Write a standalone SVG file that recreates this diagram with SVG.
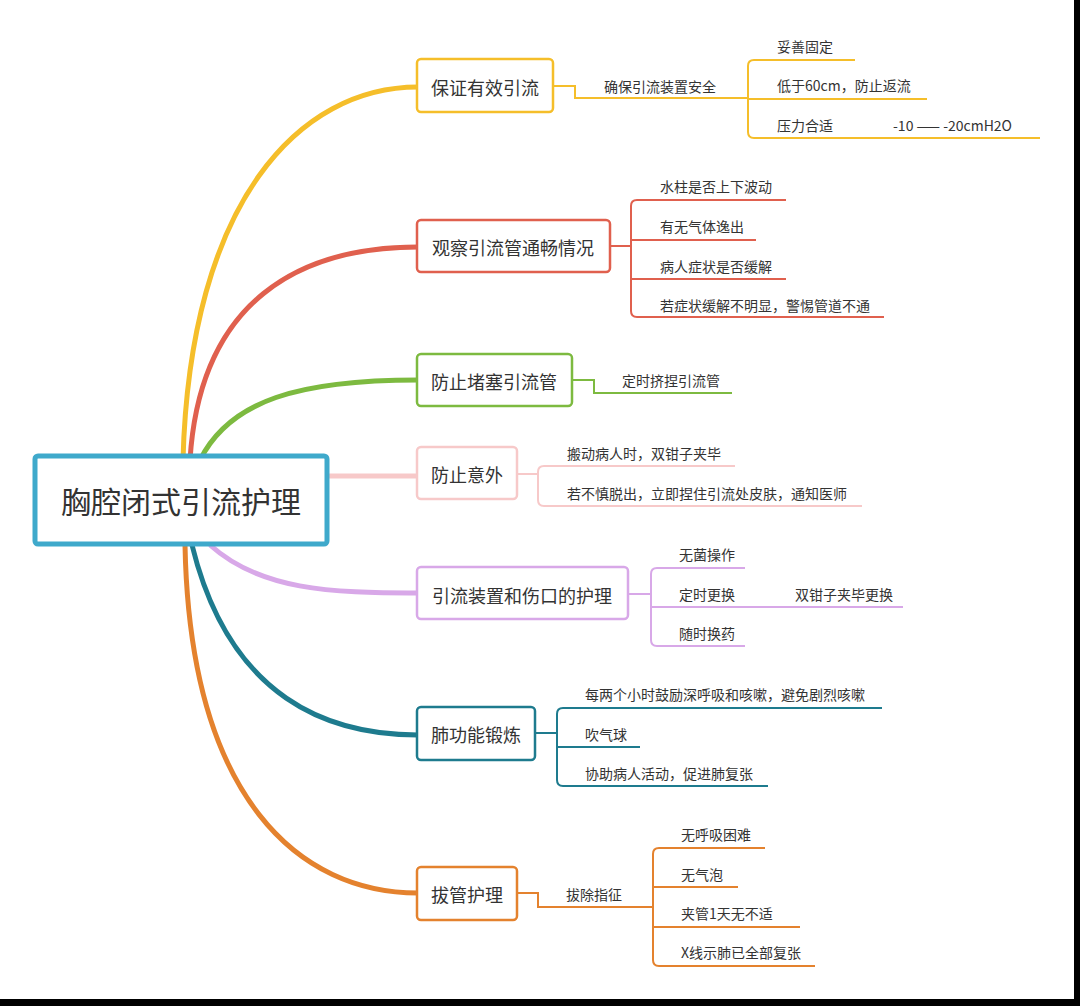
<svg xmlns="http://www.w3.org/2000/svg" width="1080" height="1006" viewBox="0 0 1080 1006">
<style>
text{font-family:"Noto Sans CJK SC","Liberation Sans",sans-serif;fill:#333}
.n{font-size:18px;text-anchor:middle;dominant-baseline:central}
.l{font-size:14px}
.box{fill:#fff;stroke-width:2.5}
.c{fill:none;stroke-width:2}
.m{fill:none;stroke-width:5}
.y{stroke:#F5BE2A}.r{stroke:#E0604E}.g{stroke:#7DBA40}.p{stroke:#F7C9C9}.v{stroke:#D8A8E8}.t{stroke:#1E7B8E}.o{stroke:#E4822E}
</style>
<rect width="1080" height="1006" fill="#fff"/>
<g id="connectors">
<path class="m y" d="M183,460 C190,200 300,87 418,87"/>
<path class="m r" d="M190,460 C200,300 300,247 418,247"/>
<path class="m g" d="M200,460 C230,400 300,380 418,380"/>
<path class="m p" d="M327,476 L418,476"/>
<path class="m v" d="M210,545 C260,590 330,593 418,593"/>
<path class="m t" d="M192,545 C230,700 330,735 418,735"/>
<path class="m o" d="M185,545 C190,800 300,893 418,893"/>
<path class="c y" d="M553,86 H575 V98 H748 M855,60 H754 Q748,60 748,66 V132 Q748,138 754,138 H1040 M748,99 H927"/>
<path class="c r" d="M610,246 H631 M786,200 H637 Q631,200 631,206 V311 Q631,317 637,317 H884 M631,240 H756 M631,279 H786"/>
<path class="c g" d="M572,380 H594 V393 H732"/>
<path class="c p" d="M517,474 H538 M735,466 H544 Q538,466 538,472 V500 Q538,506 544,506 H862"/>
<path class="c v" d="M628,594 H651 M745,568 H657 Q651,568 651,574 V640 Q651,646 657,646 H745 M651,607 H903"/>
<path class="c t" d="M535,733 H557 M882,708 H563 Q557,708 557,714 V780 Q557,786 563,786 H768 M557,747 H640"/>
<path class="c o" d="M517,893 H538 V907 H653 M765,848 H659 Q653,848 653,854 V960 Q653,966 659,966 H815 M653,887 H738 M653,927 H800"/>
</g>
<g id="root"><rect x="35" y="456" width="292" height="88" rx="3" fill="#fff" stroke="#3FA9CB" stroke-width="5"/><text x="181" y="500" font-size="30" text-anchor="middle" dominant-baseline="central">胸腔闭式引流护理</text></g>
<g id="n1"><rect class="box y" x="417" y="59" width="136" height="53" rx="4"/><text class="n" x="485" y="87">保证有效引流</text>
<text class="l" x="604" y="92">确保引流装置安全</text><text class="l" x="777" y="52">妥善固定</text><text class="l" x="777" y="91">低于60cm，防止返流</text><text class="l" x="777" y="131">压力合适</text><text class="l" x="893" y="131">-10 —— -20cmH2O</text></g>
<g id="n2"><rect class="box r" x="417" y="220" width="193" height="52" rx="4"/><text class="n" x="513" y="247">观察引流管通畅情况</text>
<text class="l" x="660" y="192">水柱是否上下波动</text><text class="l" x="660" y="232">有无气体逸出</text><text class="l" x="660" y="272">病人症状是否缓解</text><text class="l" x="660" y="311">若症状缓解不明显，警惕管道不通</text></g>
<g id="n3"><rect class="box g" x="417" y="354" width="155" height="52" rx="4"/><text class="n" x="494" y="381">防止堵塞引流管</text>
<text class="l" x="622" y="386">定时挤捏引流管</text></g>
<g id="n4"><rect class="box p" x="417" y="447" width="100" height="52" rx="4"/><text class="n" x="467" y="474">防止意外</text>
<text class="l" x="567" y="459">搬动病人时，双钳子夹毕</text><text class="l" x="567" y="499">若不慎脱出，立即捏住引流处皮肤，通知医师</text></g>
<g id="n5"><rect class="box v" x="417" y="567" width="211" height="52" rx="4"/><text class="n" x="522" y="595">引流装置和伤口的护理</text>
<text class="l" x="679" y="560">无菌操作</text><text class="l" x="679" y="600">定时更换</text><text class="l" x="795" y="600">双钳子夹毕更换</text><text class="l" x="679" y="639">随时换药</text></g>
<g id="n6"><rect class="box t" x="417" y="707" width="118" height="53" rx="4"/><text class="n" x="476" y="734">肺功能锻炼</text>
<text class="l" x="585" y="700">每两个小时鼓励深呼吸和咳嗽，避免剧烈咳嗽</text><text class="l" x="585" y="740">吹气球</text><text class="l" x="585" y="779">协助病人活动，促进肺复张</text></g>
<g id="n7"><rect class="box o" x="417" y="867" width="100" height="53" rx="4"/><text class="n" x="467" y="894">拔管护理</text>
<text class="l" x="566" y="900">拔除指征</text><text class="l" x="681" y="840">无呼吸困难</text><text class="l" x="681" y="880">无气泡</text><text class="l" x="681" y="919">夹管1天无不适</text><text class="l" x="681" y="958">X线示肺已全部复张</text></g>
<rect x="0" y="999" width="1080" height="7" fill="#000"/>
<rect x="1074" y="0" width="6" height="1006" fill="#000"/>
</svg>
